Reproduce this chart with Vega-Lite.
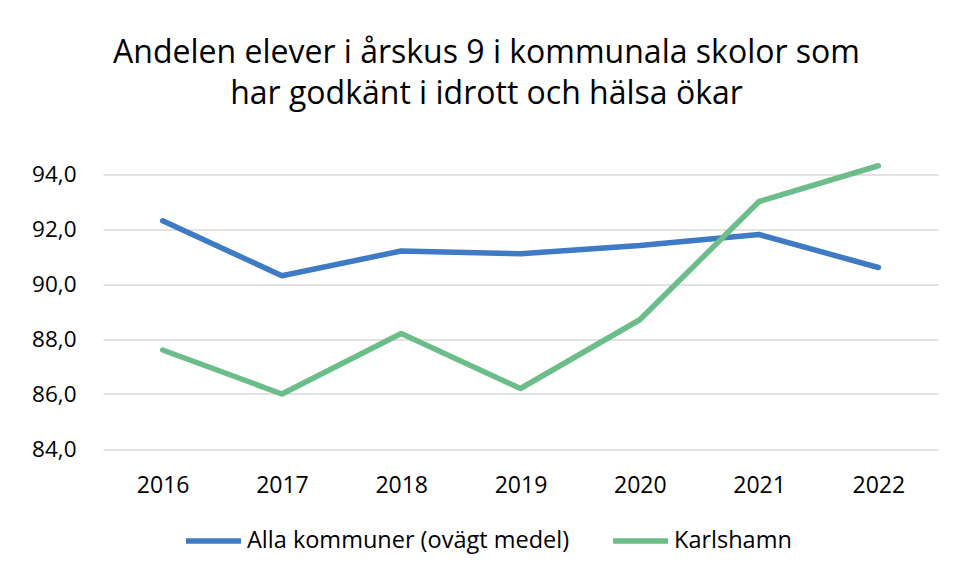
{
  "$schema": "https://vega.github.io/schema/vega-lite/v6.json",
  "width": 835,
  "height": 302.5,
  "autosize": {"type": "none"},
  "padding": {"left": 103, "top": 146.5, "right": 16, "bottom": 127},
  "background": "white",
  "title": {
    "text": ["Andelen elever i årskus 9 i kommunala skolor som", "har godkänt i idrott och hälsa ökar"],
    "font": "Open Sans",
    "fontSize": 32,
    "fontWeight": "normal",
    "color": "#000000",
    "lineHeight": 41,
    "anchor": "middle",
    "dx": -34,
    "offset": 36
  },
  "data": {
    "values": [
      {"year": "2016", "series": "Alla kommuner (ovägt medel)", "value": 92.3},
      {"year": "2017", "series": "Alla kommuner (ovägt medel)", "value": 90.3},
      {"year": "2018", "series": "Alla kommuner (ovägt medel)", "value": 91.2},
      {"year": "2019", "series": "Alla kommuner (ovägt medel)", "value": 91.1},
      {"year": "2020", "series": "Alla kommuner (ovägt medel)", "value": 91.4},
      {"year": "2021", "series": "Alla kommuner (ovägt medel)", "value": 91.8},
      {"year": "2022", "series": "Alla kommuner (ovägt medel)", "value": 90.6},
      {"year": "2016", "series": "Karlshamn", "value": 87.6},
      {"year": "2017", "series": "Karlshamn", "value": 86.0},
      {"year": "2018", "series": "Karlshamn", "value": 88.2},
      {"year": "2019", "series": "Karlshamn", "value": 86.2},
      {"year": "2020", "series": "Karlshamn", "value": 88.7},
      {"year": "2021", "series": "Karlshamn", "value": 93.0},
      {"year": "2022", "series": "Karlshamn", "value": 94.3}
    ]
  },
  "mark": {"type": "line", "strokeWidth": 5.5, "strokeCap": "round", "strokeJoin": "round"},
  "encoding": {
    "x": {
      "field": "year",
      "type": "ordinal",
      "scale": {"type": "point", "padding": 0.5},
      "axis": {
        "title": null,
        "labelAngle": 0,
        "domain": false,
        "ticks": false,
        "grid": false,
        "labelFont": "Open Sans",
        "labelFontSize": 23,
        "labelColor": "#000000",
        "labelPadding": 25
      }
    },
    "y": {
      "field": "value",
      "type": "quantitative",
      "scale": {"domain": [84, 95], "nice": false, "zero": false},
      "axis": {
        "title": null,
        "values": [84, 86, 88, 90, 92, 94],
        "labelExpr": "replace(format(datum.value, '.1f'), '.', ',')",
        "domain": false,
        "ticks": false,
        "grid": true,
        "gridColor": "#d9d9d9",
        "gridWidth": 1.5,
        "labelFont": "Open Sans",
        "labelFontSize": 22.5,
        "labelColor": "#000000",
        "labelPadding": 27
      }
    },
    "color": {
      "field": "series",
      "type": "nominal",
      "scale": {
        "domain": ["Alla kommuner (ovägt medel)", "Karlshamn"],
        "range": ["#3f7bc4", "#6bbd8a"]
      },
      "legend": {
        "title": null,
        "orient": "none",
        "direction": "horizontal",
        "legendX": 80,
        "legendY": 364,
        "symbolType": "stroke",
        "symbolSize": 3025,
        "symbolStrokeWidth": 5.5,
        "labelFont": "Open Sans",
        "labelFontSize": 23.5,
        "labelColor": "#000000",
        "labelOffset": 3,
        "columnPadding": 32,
        "labelLimit": 500
      }
    }
  },
  "config": {"view": {"stroke": null}}
}
